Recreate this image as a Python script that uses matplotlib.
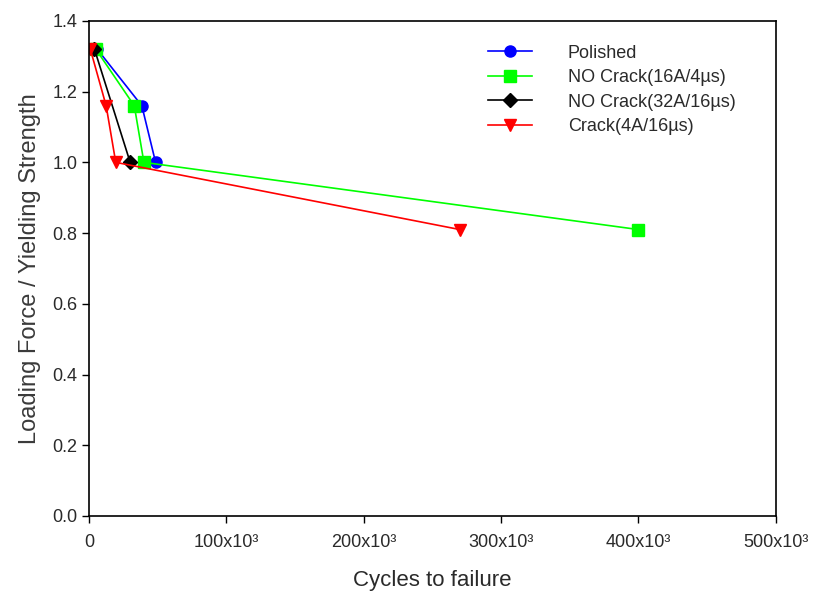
import matplotlib
matplotlib.use('Agg')
import matplotlib.pyplot as plt

# loading ratio levels and cycles to failure
polished_x = [6000, 38500, 48500]
polished_y = [1.32, 1.16, 1.00]
nocrack16_x = [5000, 33000, 40000, 400000]
nocrack16_y = [1.32, 1.16, 1.00, 0.81]
nocrack32_x = [4000, 30000]
nocrack32_y = [1.32, 1.00]
crack_x = [1000, 12500, 19500, 270000]
crack_y = [1.32, 1.16, 1.00, 0.81]

xticks = [0, 100000, 200000, 300000, 400000, 500000]
xtick_labels = ['0', '100x10³', '200x10³', '300x10³', '400x10³', '500x10³']
yticks = [0.0, 0.2, 0.4, 0.6, 0.8, 1.0, 1.2, 1.4]

plt.rcParams['font.family'] = ['Liberation Sans', 'DejaVu Sans']
txt = '#2a2a2a'

fig = plt.figure(figsize=(8.2, 5.99), dpi=100)
ax = fig.add_axes([0.1085, 0.1386, 0.8375, 0.8265])

ms = 8
ax.plot(polished_x, polished_y, color='#0000ff', marker='o', ms=ms, lw=1.2, label='Polished')
ax.plot(nocrack16_x, nocrack16_y, color='#00ff00', marker='s', ms=ms, lw=1.2, label='NO Crack(16A/4µs)')
ax.plot(nocrack32_x, nocrack32_y, color='black', marker='D', ms=ms - 1, lw=1.2, label='NO Crack(32A/16µs)')
ax.plot(crack_x, crack_y, color='#ff0000', marker='v', ms=ms + 1, lw=1.2, label='Crack(4A/16µs)')

ax.set_xlim(0, 500000)
ax.set_ylim(0, 1.4)
ax.set_xticks(xticks)
ax.set_xticklabels(xtick_labels)
ax.set_yticks(yticks)
ax.set_yticklabels([f'{v:.1f}' for v in yticks])
ax.tick_params(direction='out', length=5, width=1, labelsize=13, labelcolor=txt,
               top=False, right=False)
ax.tick_params(axis='x', pad=8)
for s in ax.spines.values():
    s.set_linewidth(1.2)

ax.set_xlabel('Cycles to failure', fontsize=16, labelpad=14, color=txt)
ax.set_ylabel('Loading Force / Yielding Strength', fontsize=17, labelpad=8, color='#3a3a3a')

ax.legend(loc='upper right', bbox_to_anchor=(0.965, 0.985), frameon=False,
          fontsize=13, handlelength=2.4, labelspacing=0.42, handletextpad=2.0,
          labelcolor=txt)

fig.savefig('out.png', dpi=100)
